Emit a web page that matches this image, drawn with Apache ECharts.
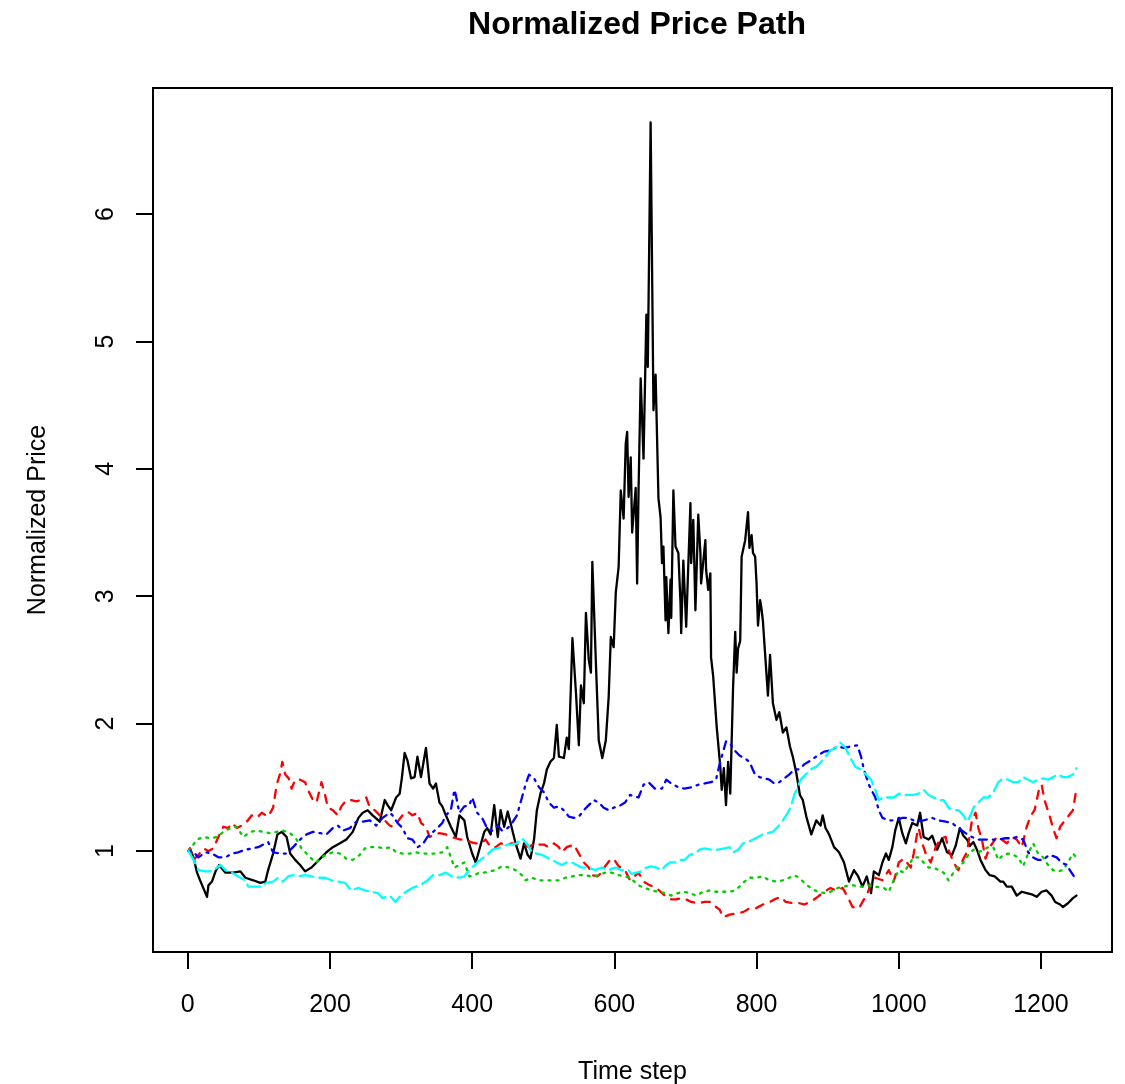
<!DOCTYPE html>
<html>
<head>
<meta charset="utf-8">
<script src="https://cdn.jsdelivr.net/npm/echarts@6.0.0/dist/echarts.min.js"></script>
<style>
html,body{margin:0;padding:0;background:#fff;}
#c{width:1125px;height:1084px;}
</style>
</head>
<body>
<div id="c"></div>
<script>
// ---- data: [time step, normalized price] ----
const xTicks = [0, 200, 400, 600, 800, 1000, 1200];
const yTicks = [1, 2, 3, 4, 5, 6];

const blackPath = [[1,1.00],[3,1.02],[8,0.95],[13,0.83],[18,0.76],[27,0.64],[29,0.73],[34,0.76],[39,0.84],[44,0.89],[53,0.83],[64,0.83],[74,0.84],[81,0.79],[92,0.77],[102,0.75],[109,0.76],[113,0.85],[120,0.98],[126,1.13],[132,1.15],[139,1.11],[144,0.98],[151,0.93],[158,0.89],[165,0.84],[174,0.87],[181,0.91],[188,0.95],[195,0.99],[204,1.03],[214,1.06],[223,1.09],[232,1.15],[240,1.26],[246,1.30],[253,1.32],[260,1.28],[270,1.23],[277,1.40],[281,1.36],[286,1.32],[293,1.42],[298,1.45],[301,1.57],[305,1.77],[309,1.71],[314,1.57],[319,1.58],[323,1.74],[328,1.58],[335,1.81],[340,1.53],[345,1.49],[349,1.53],[354,1.38],[358,1.35],[363,1.28],[370,1.19],[377,1.11],[382,1.28],[389,1.24],[393,1.11],[400,0.98],[405,0.91],[410,1.01],[417,1.15],[421,1.18],[426,1.13],[431,1.36],[436,1.11],[440,1.32],[445,1.19],[450,1.31],[454,1.22],[461,1.06],[468,0.94],[473,1.06],[478,0.97],[482,0.94],[487,1.09],[491,1.32],[496,1.45],[501,1.53],[505,1.64],[510,1.70],[515,1.73],[519,1.99],[522,1.74],[529,1.73],[533,1.89],[536,1.80],[541,2.67],[546,2.24],[550,1.83],[553,2.30],[557,2.16],[560,2.87],[564,2.50],[567,2.40],[569,3.27],[574,2.48],[578,1.87],[583,1.73],[588,1.87],[592,2.21],[595,2.68],[599,2.60],[602,3.03],[606,3.23],[609,3.83],[613,3.61],[616,4.20],[618,4.29],[620,3.78],[623,4.09],[625,3.50],[630,3.85],[632,3.10],[634,3.83],[637,4.71],[641,4.08],[645,5.21],[647,4.80],[651,6.72],[655,4.46],[658,4.74],[662,3.77],[665,3.62],[667,3.26],[669,3.39],[672,2.81],[673,3.15],[676,2.71],[679,3.13],[680,2.83],[683,3.83],[686,3.39],[690,3.34],[693,2.95],[694,2.71],[697,3.28],[701,2.76],[707,3.73],[708,3.26],[711,3.60],[714,2.89],[718,3.64],[721,3.34],[722,3.10],[728,3.44],[729,3.21],[732,3.05],[735,3.18],[736,2.52],[739,2.37],[744,1.97],[749,1.66],[751,1.48],[754,1.65],[757,1.36],[760,1.70],[763,1.45],[767,2.29],[770,2.72],[772,2.40],[774,2.59],[777,2.65],[779,3.31],[784,3.44],[788,3.66],[790,3.38],[793,3.48],[795,3.34],[798,3.31],[800,3.10],[802,2.77],[805,2.97],[807,2.90],[809,2.80],[812,2.55],[816,2.22],[819,2.54],[823,2.16],[828,2.03],[832,2.09],[837,1.93],[842,1.97],[847,1.82],[851,1.74],[856,1.61],[861,1.44],[865,1.40],[870,1.27],[877,1.13],[884,1.24],[890,1.20],[893,1.28],[897,1.18],[902,1.13],[909,1.03],[916,0.99],[923,0.91],[930,0.76],[937,0.85],[943,0.80],[949,0.72],[955,0.80],[961,0.67],[965,0.84],[972,0.81],[977,0.91],[982,0.98],[986,0.93],[991,1.03],[995,1.16],[1000,1.26],[1005,1.14],[1010,1.06],[1014,1.14],[1019,1.22],[1026,1.20],[1030,1.30],[1035,1.11],[1042,1.09],[1047,1.12],[1054,1.01],[1061,1.10],[1068,0.99],[1075,0.97],[1080,1.04],[1086,1.18],[1091,1.12],[1096,1.09],[1100,1.04],[1105,1.07],[1110,1.01],[1115,0.93],[1122,0.85],[1128,0.81],[1135,0.80],[1143,0.76],[1147,0.76],[1152,0.72],[1159,0.72],[1166,0.65],[1173,0.68],[1180,0.67],[1187,0.66],[1194,0.64],[1201,0.68],[1208,0.69],[1215,0.65],[1220,0.60],[1227,0.58],[1231,0.56],[1238,0.59],[1245,0.63],[1250,0.65]];

const redPath = [[1,1.00],[3,1.02],[8,0.93],[15,0.97],[22,1.02],[29,1.00],[36,1.02],[43,1.11],[50,1.19],[57,1.18],[62,1.22],[69,1.18],[76,1.20],[83,1.23],[90,1.28],[97,1.26],[104,1.30],[113,1.27],[120,1.34],[125,1.52],[130,1.61],[133,1.70],[137,1.60],[142,1.57],[146,1.49],[151,1.56],[158,1.56],[165,1.54],[169,1.48],[176,1.40],[181,1.38],[188,1.54],[193,1.44],[197,1.34],[204,1.32],[211,1.28],[216,1.35],[223,1.40],[230,1.40],[237,1.39],[244,1.40],[251,1.42],[256,1.34],[263,1.32],[270,1.28],[277,1.24],[284,1.20],[288,1.19],[295,1.23],[302,1.28],[309,1.31],[316,1.28],[323,1.30],[328,1.22],[335,1.19],[340,1.11],[347,1.13],[354,1.14],[363,1.13],[370,1.11],[377,1.10],[384,1.09],[391,1.09],[398,1.07],[405,1.06],[412,1.06],[419,1.09],[426,1.03],[433,1.03],[440,1.06],[447,1.05],[456,1.06],[466,1.05],[473,1.05],[480,1.03],[487,1.06],[494,1.05],[501,1.05],[508,1.03],[515,1.06],[522,1.03],[526,0.99],[533,1.03],[543,1.05],[550,0.98],[557,0.91],[564,0.87],[569,0.81],[576,0.80],[582,0.83],[587,0.88],[594,0.93],[599,0.94],[606,0.88],[615,0.85],[622,0.77],[628,0.80],[634,0.83],[641,0.76],[650,0.73],[657,0.72],[667,0.67],[673,0.64],[680,0.62],[687,0.62],[694,0.63],[701,0.62],[708,0.60],[718,0.59],[727,0.60],[736,0.60],[743,0.56],[748,0.54],[753,0.48],[762,0.50],[771,0.51],[781,0.52],[790,0.55],[799,0.55],[809,0.58],[816,0.59],[825,0.62],[834,0.64],[841,0.60],[851,0.59],[860,0.59],[867,0.58],[876,0.60],[886,0.64],[895,0.68],[904,0.71],[912,0.69],[921,0.71],[928,0.64],[935,0.56],[944,0.55],[951,0.62],[956,0.67],[961,0.74],[967,0.79],[977,0.77],[986,0.85],[993,0.76],[1000,0.91],[1007,0.94],[1017,0.87],[1021,0.98],[1026,1.14],[1028,1.18],[1033,1.06],[1038,0.98],[1045,0.91],[1052,1.03],[1059,1.10],[1066,1.11],[1070,1.01],[1077,0.91],[1084,0.85],[1091,0.94],[1096,0.99],[1103,1.24],[1108,1.30],[1112,1.18],[1117,1.09],[1122,0.94],[1128,1.03],[1138,1.11],[1145,1.09],[1152,1.06],[1159,1.11],[1166,1.09],[1173,1.03],[1180,1.19],[1185,1.27],[1191,1.32],[1198,1.50],[1201,1.52],[1205,1.40],[1212,1.28],[1217,1.18],[1222,1.10],[1227,1.19],[1231,1.22],[1238,1.27],[1245,1.32],[1250,1.49]];

const greenPath = [[1,1.00],[13,1.09],[22,1.11],[32,1.10],[41,1.11],[50,1.15],[60,1.18],[69,1.19],[78,1.11],[88,1.15],[97,1.16],[106,1.15],[116,1.14],[125,1.15],[134,1.16],[144,1.14],[153,1.09],[160,1.02],[167,0.98],[174,0.94],[181,0.91],[188,0.95],[195,0.97],[204,0.99],[214,0.98],[223,0.94],[232,0.93],[242,0.97],[249,1.02],[258,1.03],[267,1.03],[277,1.02],[286,1.03],[293,0.99],[302,0.98],[312,0.98],[321,0.99],[330,0.98],[340,0.98],[349,0.98],[358,0.99],[365,1.03],[370,0.95],[375,0.87],[382,0.89],[389,0.91],[396,0.80],[403,0.81],[410,0.83],[417,0.83],[424,0.84],[433,0.85],[442,0.88],[452,0.87],[461,0.85],[470,0.81],[475,0.77],[484,0.79],[494,0.77],[503,0.77],[512,0.77],[522,0.77],[531,0.79],[540,0.80],[550,0.81],[559,0.81],[568,0.80],[578,0.81],[587,0.83],[596,0.83],[606,0.81],[615,0.80],[622,0.79],[634,0.73],[643,0.71],[652,0.69],[662,0.68],[671,0.67],[680,0.65],[690,0.67],[697,0.68],[706,0.67],[715,0.65],[725,0.68],[734,0.69],[743,0.68],[753,0.68],[762,0.68],[769,0.69],[776,0.72],[783,0.76],[790,0.79],[799,0.79],[809,0.80],[818,0.77],[828,0.76],[837,0.77],[846,0.79],[853,0.81],[860,0.79],[867,0.75],[876,0.71],[886,0.68],[895,0.67],[904,0.68],[914,0.71],[923,0.72],[930,0.73],[937,0.73],[944,0.72],[951,0.72],[958,0.73],[967,0.72],[979,0.71],[986,0.68],[993,0.77],[1000,0.85],[1007,0.83],[1014,0.89],[1021,0.95],[1028,0.95],[1035,0.91],[1042,0.87],[1049,0.87],[1056,0.85],[1063,0.83],[1070,0.77],[1077,0.83],[1084,0.88],[1091,0.91],[1098,0.97],[1105,1.01],[1112,0.99],[1119,1.01],[1126,1.03],[1133,1.03],[1140,0.93],[1147,0.97],[1154,0.98],[1161,0.97],[1168,0.95],[1175,0.88],[1182,0.98],[1189,1.06],[1196,0.98],[1203,0.95],[1210,0.89],[1217,0.85],[1224,0.84],[1231,0.85],[1238,0.91],[1245,0.98],[1250,0.95]];

const bluePath = [[1,1.00],[8,0.99],[15,0.95],[25,0.99],[34,0.98],[43,0.95],[53,0.95],[62,0.98],[71,0.99],[81,1.01],[90,1.02],[99,1.03],[109,1.06],[113,1.07],[120,0.99],[130,0.98],[139,0.98],[148,1.03],[158,1.09],[167,1.13],[176,1.15],[186,1.14],[195,1.13],[204,1.18],[211,1.20],[218,1.16],[228,1.18],[237,1.23],[246,1.23],[256,1.24],[265,1.20],[274,1.26],[284,1.30],[288,1.28],[295,1.22],[302,1.18],[309,1.10],[316,1.09],[323,1.03],[330,1.05],[337,1.11],[345,1.15],[351,1.18],[358,1.22],[363,1.28],[370,1.32],[375,1.48],[377,1.44],[382,1.30],[389,1.35],[396,1.36],[400,1.42],[407,1.30],[414,1.26],[421,1.18],[428,1.16],[436,1.20],[442,1.16],[450,1.18],[456,1.22],[463,1.28],[470,1.42],[475,1.52],[480,1.60],[487,1.57],[494,1.50],[501,1.46],[508,1.38],[515,1.34],[522,1.35],[529,1.32],[536,1.27],[543,1.26],[550,1.27],[557,1.32],[564,1.36],[571,1.40],[578,1.38],[585,1.34],[592,1.32],[599,1.34],[606,1.35],[615,1.38],[622,1.44],[634,1.42],[641,1.52],[648,1.54],[657,1.49],[667,1.49],[673,1.56],[680,1.53],[690,1.50],[698,1.49],[708,1.50],[718,1.52],[727,1.53],[736,1.54],[743,1.56],[748,1.68],[753,1.78],[757,1.86],[762,1.85],[769,1.79],[776,1.75],[783,1.73],[790,1.70],[797,1.61],[804,1.58],[811,1.57],[818,1.56],[825,1.53],[832,1.54],[839,1.57],[846,1.60],[853,1.64],[860,1.64],[867,1.68],[876,1.71],[886,1.75],[895,1.78],[904,1.79],[914,1.82],[923,1.81],[932,1.82],[942,1.83],[947,1.74],[951,1.64],[958,1.52],[967,1.42],[972,1.32],[977,1.26],[986,1.24],[995,1.24],[1005,1.26],[1014,1.26],[1024,1.23],[1035,1.24],[1047,1.26],[1056,1.24],[1066,1.23],[1075,1.22],[1084,1.18],[1094,1.14],[1103,1.11],[1112,1.09],[1122,1.09],[1131,1.09],[1140,1.09],[1150,1.10],[1159,1.10],[1166,1.11],[1175,1.09],[1182,0.99],[1189,0.95],[1196,0.93],[1203,0.93],[1212,0.97],[1222,0.95],[1229,0.91],[1236,0.89],[1243,0.83],[1250,0.77]];

const cyanPath = [[1,1.00],[8,0.93],[15,0.85],[25,0.84],[34,0.84],[41,0.87],[46,0.89],[53,0.85],[62,0.83],[71,0.80],[81,0.77],[85,0.72],[92,0.72],[102,0.72],[111,0.75],[120,0.76],[127,0.79],[134,0.76],[141,0.80],[148,0.81],[155,0.80],[165,0.81],[174,0.80],[183,0.79],[193,0.79],[202,0.77],[211,0.76],[221,0.75],[230,0.69],[240,0.71],[249,0.69],[258,0.68],[267,0.67],[274,0.63],[284,0.65],[292,0.60],[298,0.64],[307,0.68],[316,0.71],[326,0.73],[335,0.76],[345,0.81],[354,0.81],[363,0.83],[372,0.80],[382,0.79],[389,0.80],[393,0.83],[400,0.87],[407,0.91],[414,0.94],[421,0.97],[428,1.01],[436,1.02],[442,1.03],[450,1.05],[456,1.05],[463,1.06],[470,1.10],[478,1.05],[484,0.99],[491,0.98],[498,0.97],[505,0.95],[512,0.93],[519,0.91],[526,0.89],[533,0.91],[540,0.91],[547,0.89],[554,0.87],[564,0.87],[573,0.85],[582,0.87],[592,0.85],[601,0.87],[610,0.85],[620,0.85],[624,0.82],[638,0.84],[645,0.87],[652,0.88],[659,0.87],[667,0.85],[671,0.88],[678,0.91],[685,0.91],[692,0.93],[699,0.93],[706,0.97],[713,0.98],[720,1.01],[727,1.02],[736,1.01],[746,1.01],[755,1.02],[762,1.03],[767,0.99],[774,1.01],[781,1.06],[788,1.07],[795,1.09],[802,1.11],[809,1.13],[816,1.14],[823,1.15],[830,1.19],[837,1.24],[844,1.30],[849,1.36],[853,1.44],[858,1.50],[862,1.56],[869,1.60],[876,1.64],[884,1.66],[891,1.70],[898,1.75],[904,1.79],[911,1.81],[918,1.85],[925,1.81],[932,1.73],[939,1.66],[947,1.64],[954,1.60],[961,1.56],[967,1.48],[972,1.40],[979,1.42],[986,1.42],[993,1.42],[1000,1.45],[1007,1.44],[1014,1.44],[1021,1.44],[1028,1.45],[1035,1.48],[1042,1.44],[1049,1.42],[1056,1.40],[1063,1.40],[1070,1.34],[1077,1.32],[1084,1.32],[1091,1.28],[1096,1.23],[1101,1.28],[1105,1.34],[1112,1.38],[1119,1.42],[1126,1.42],[1133,1.46],[1140,1.54],[1147,1.57],[1154,1.56],[1161,1.54],[1168,1.54],[1175,1.58],[1182,1.56],[1189,1.54],[1196,1.56],[1203,1.57],[1210,1.56],[1217,1.58],[1224,1.60],[1231,1.58],[1238,1.58],[1245,1.60],[1250,1.65]];

const FONT = '"Liberation Sans", Arial, Helvetica, sans-serif';

function lineSeries(data, color, dash) {
  return {
    type: 'line',
    data: data,
    showSymbol: false,
    symbol: 'none',
    animation: false,
    silent: true,
    lineStyle: { color: color, width: 2.3, type: dash, cap: 'round', join: 'round' }
  };
}

const chart = echarts.init(document.getElementById('c'), null, { renderer: 'canvas' });
chart.setOption({
  animation: false,
  backgroundColor: '#ffffff',
  title: {
    text: 'Normalized Price Path',
    left: 632,
    textAlign: 'center',
    top: 4,
    textStyle: { fontFamily: FONT, fontSize: 32, fontWeight: 'bold', color: '#000' }
  },
  grid: {
    left: 153, right: 13, top: 88, bottom: 132,
    outerBoundsMode: 'none',
    containLabel: false,
    show: true, borderColor: '#000', borderWidth: 2, backgroundColor: 'transparent'
  },
  xAxis: {
    type: 'value',
    min: -48.96, max: 1299.96,
    name: 'Time step',
    nameLocation: 'middle',
    nameGap: 108,
    nameTextStyle: { fontFamily: FONT, fontSize: 25, color: '#000' },
    axisLine: { show: false, onZero: false },
    splitLine: { show: false },
    axisTick: { show: true, inside: false, length: 17, lineStyle: { color: '#000', width: 2 }, customValues: xTicks },
    axisLabel: { customValues: xTicks, fontFamily: FONT, fontSize: 25, color: '#000', margin: 41,
                 formatter: function (v) { return String(v); } }
  },
  yAxis: {
    type: 'value',
    min: 0.207, max: 6.99,
    name: 'Normalized Price',
    nameLocation: 'middle',
    nameGap: 102,
    nameTextStyle: { fontFamily: FONT, fontSize: 25, color: '#000' },
    axisLine: { show: false, onZero: false },
    splitLine: { show: false },
    axisTick: { show: true, inside: false, length: 17, lineStyle: { color: '#000', width: 2 }, customValues: yTicks },
    axisLabel: { customValues: yTicks, rotate: 90, fontFamily: FONT, fontSize: 25, color: '#000', margin: 34,
                 formatter: function (v) { return String(v); } }
  },
  series: [
    lineSeries(blackPath, '#000000', 'solid'),
    lineSeries(redPath, '#FF0000', [8, 8]),
    lineSeries(greenPath, '#00CD00', [2, 6]),
    lineSeries(bluePath, '#0000FF', [2, 6, 8, 6]),
    lineSeries(cyanPath, '#00FFFF', [14, 6])
  ]
});
</script>
</body>
</html>
